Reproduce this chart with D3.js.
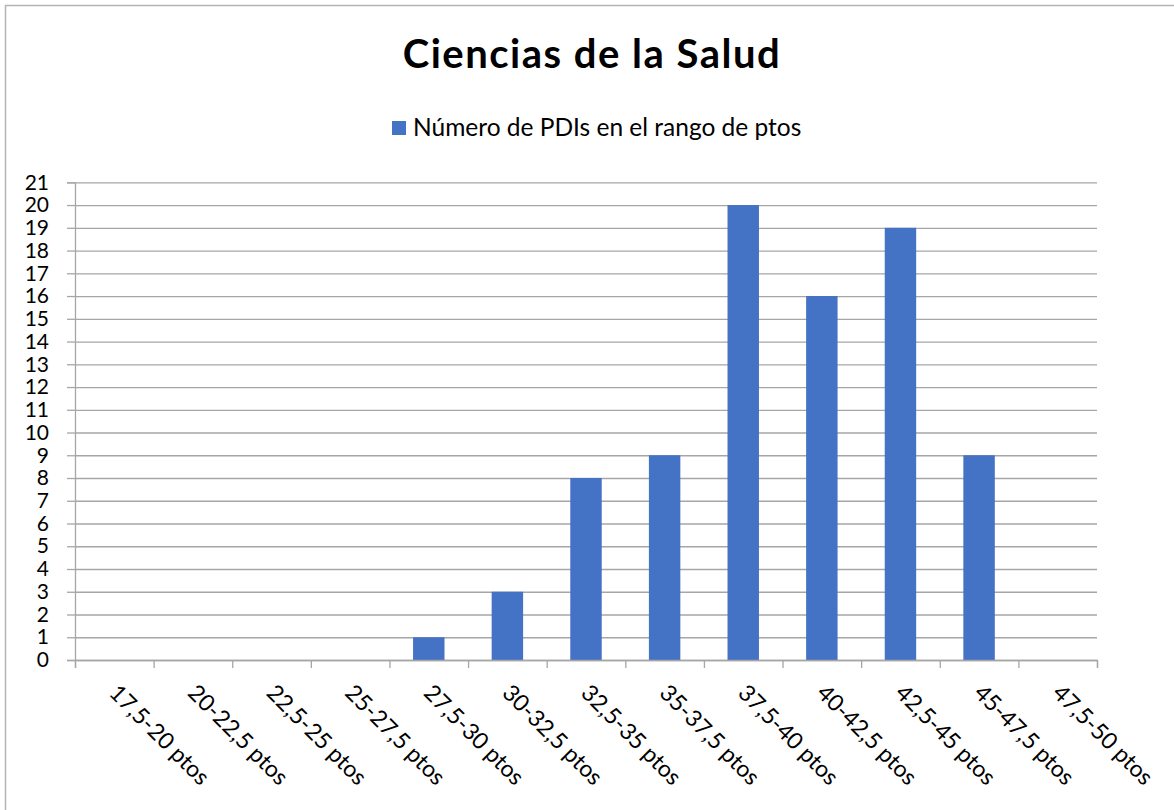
<!DOCTYPE html>
<html><head><meta charset="utf-8">
<script src="https://cdn.jsdelivr.net/npm/d3@7"></script>
<style>body{margin:0;background:#fff}svg{display:block}</style>
</head><body>
<script>
const categories = ["17,5-20 ptos","20-22,5 ptos","22,5-25 ptos","25-27,5 ptos","27,5-30 ptos","30-32,5 ptos","32,5-35 ptos","35-37,5 ptos","37,5-40 ptos","40-42,5 ptos","42,5-45 ptos","45-47,5 ptos","47,5-50 ptos"];
const values = [0,0,0,0,1,3,8,9,20,16,19,9,0];
const yTicks = d3.range(0,22);
const title = "Ciencias de la Salud";
const seriesName = "Número de PDIs en el rango de ptos";

(function(){
const W = 1174, H = 810;
const font = "Lato, 'Open Sans', sans-serif";
const svg = d3.select("body").append("svg").attr("width", W).attr("height", H);
svg.append("rect").attr("width", W).attr("height", H).attr("fill", "#fff");
svg.append("rect").attr("x", 5.5).attr("y", 5.5).attr("width", 1300).attr("height", 1000)
  .attr("fill", "none").attr("stroke", "#b4b4b4").attr("stroke-width", 1.5);

const mLeft = 75, mRight = 1097, mTop = 182.3, mBottom = 660;
const x = d3.scaleBand().domain(categories).range([mLeft, mRight]).paddingInner(0.6).paddingOuter(0.3);
const xb = d3.scaleBand().domain(categories).range([mLeft, mRight]);
const y = d3.scaleLinear().domain([0, 21]).range([mBottom, mTop]);

svg.append("text").attr("x", 592).attr("y", 68).attr("text-anchor", "middle")
  .attr("font-family", font).attr("font-weight", "bold").attr("font-size", 40)
  .attr("letter-spacing", 1.5).attr("fill", "#000").text(title);

// legend
svg.append("rect").attr("x", 392).attr("y", 121).attr("width", 14).attr("height", 14).attr("fill", "#4472C4");
svg.append("text").attr("x", 413).attr("y", 136).attr("font-family", font).attr("font-size", 24.5).attr("fill", "#000").text(seriesName);

// grid
const grid = svg.append("g").attr("transform", `translate(${mLeft},0)`)
  .call(d3.axisLeft(y).tickValues(yTicks).tickSize(-(mRight-mLeft)).tickFormat(""));
grid.select(".domain").remove();
grid.selectAll("line").attr("stroke", "#a6a6a6").attr("stroke-width", 1.3);

// y axis ticks & labels
const ya = svg.append("g").attr("transform", `translate(${mLeft},0)`)
  .call(d3.axisLeft(y).tickValues(yTicks).tickSize(8).tickPadding(18).tickFormat(d3.format("d")));
ya.select(".domain").attr("stroke", "#a6a6a6").attr("stroke-width", 1.3);
ya.selectAll("line").attr("stroke", "#a6a6a6").attr("stroke-width", 1.3);
ya.selectAll("text").attr("font-family", font).attr("font-size", 21).attr("fill", "#000");

// bars
svg.append("g").selectAll("rect").data(values).join("rect")
  .attr("x", (d,i) => x(categories[i])).attr("width", x.bandwidth())
  .attr("y", d => y(d)).attr("height", d => y(0) - y(d))
  .attr("fill", "#4472C4");

// x axis
const xTickVals = d3.range(0, categories.length + 1);
const xs = d3.scaleLinear().domain([0, categories.length]).range([mLeft, mRight]);
const xa = svg.append("g").attr("transform", `translate(0,${mBottom})`)
  .call(d3.axisBottom(xs).tickValues(xTickVals).tickSize(8).tickFormat(""));
xa.select(".domain").attr("stroke", "#a6a6a6").attr("stroke-width", 1.3);
xa.selectAll("line").attr("stroke", "#a6a6a6").attr("stroke-width", 1.3);

svg.append("g").selectAll("text").data(categories).join("text")
  .attr("transform", d => `translate(${xb(d) + xb.bandwidth()/2},${mBottom + 28}) rotate(45)`)
  .attr("font-family", font).attr("font-size", 23).attr("fill", "#000")
  .attr("dominant-baseline", "central")
  .text(d => d);
})();
</script>
</body></html>
